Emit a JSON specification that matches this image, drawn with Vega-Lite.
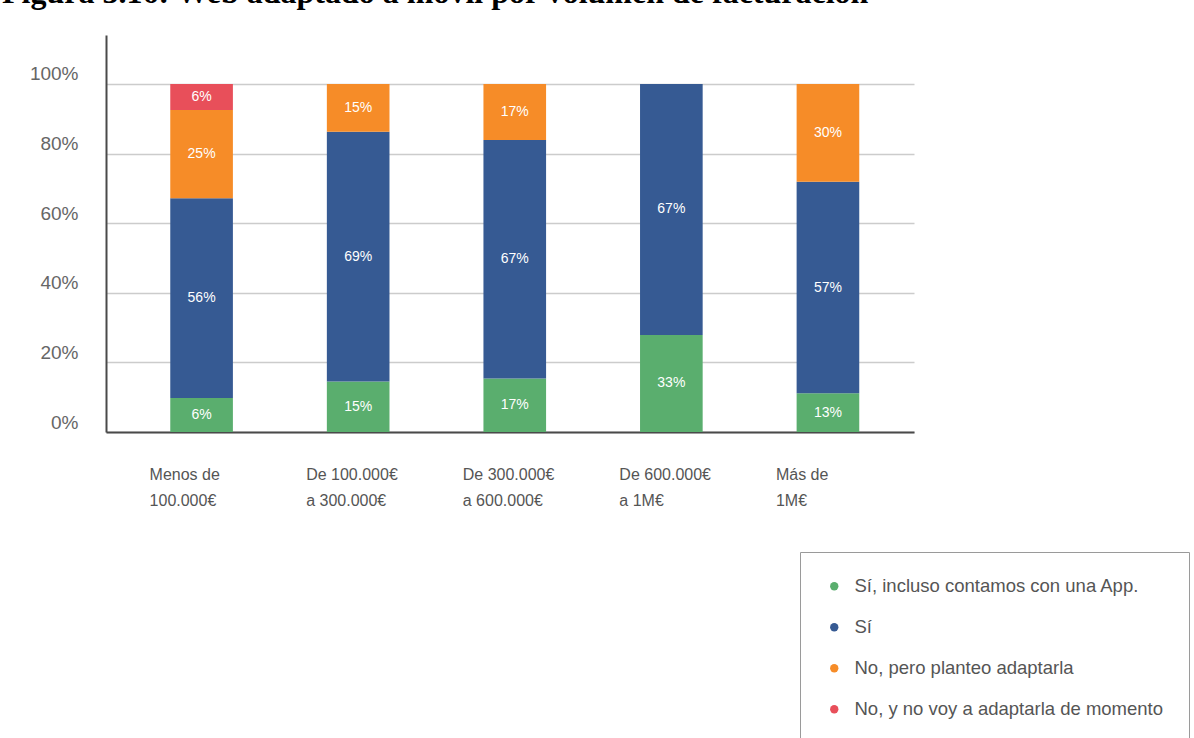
{
  "$schema": "https://vega.github.io/schema/vega-lite/v6.json",
  "autosize": {"type": "none"},
  "padding": {"left": 106, "top": 35, "right": 280, "bottom": 306},
  "width": 808,
  "height": 397,
  "background": "white",
  "title": {
    "text": "Figura 3.16: Web adaptado a móvil por volumen de facturación",
    "font": "Liberation Serif",
    "fontWeight": "bold",
    "fontSize": 32,
    "color": "black",
    "anchor": "start",
    "frame": "group",
    "baseline": "alphabetic",
    "offset": 0,
    "dx": -104,
    "dy": 0
  },
  "data": {
    "values": [
      {"cat": "Menos de 100.000€", "resp": "Sí, incluso contamos con una App.", "o": 1, "value": 9.8, "label": "6%"},
      {"cat": "Menos de 100.000€", "resp": "Sí", "o": 2, "value": 57.4, "label": "56%"},
      {"cat": "Menos de 100.000€", "resp": "No, pero planteo adaptarla", "o": 3, "value": 25.3, "label": "25%"},
      {"cat": "Menos de 100.000€", "resp": "No, y no voy a adaptarla de momento", "o": 4, "value": 7.5, "label": "6%"},
      {"cat": "De 100.000€ a 300.000€", "resp": "Sí, incluso contamos con una App.", "o": 1, "value": 14.5, "label": "15%"},
      {"cat": "De 100.000€ a 300.000€", "resp": "Sí", "o": 2, "value": 71.8, "label": "69%"},
      {"cat": "De 100.000€ a 300.000€", "resp": "No, pero planteo adaptarla", "o": 3, "value": 13.7, "label": "15%"},
      {"cat": "De 300.000€ a 600.000€", "resp": "Sí, incluso contamos con una App.", "o": 1, "value": 15.4, "label": "17%"},
      {"cat": "De 300.000€ a 600.000€", "resp": "Sí", "o": 2, "value": 68.5, "label": "67%"},
      {"cat": "De 300.000€ a 600.000€", "resp": "No, pero planteo adaptarla", "o": 3, "value": 16.1, "label": "17%"},
      {"cat": "De 600.000€ a 1M€", "resp": "Sí, incluso contamos con una App.", "o": 1, "value": 27.9, "label": "33%"},
      {"cat": "De 600.000€ a 1M€", "resp": "Sí", "o": 2, "value": 72.1, "label": "67%"},
      {"cat": "Más de 1M€", "resp": "Sí, incluso contamos con una App.", "o": 1, "value": 11.1, "label": "13%"},
      {"cat": "Más de 1M€", "resp": "Sí", "o": 2, "value": 60.8, "label": "57%"},
      {"cat": "Más de 1M€", "resp": "No, pero planteo adaptarla", "o": 3, "value": 28.1, "label": "30%"}
    ]
  },
  "encoding": {
    "x": {
      "field": "cat",
      "type": "nominal",
      "sort": ["Menos de 100.000€", "De 100.000€ a 300.000€", "De 300.000€ a 600.000€", "De 600.000€ a 1M€", "Más de 1M€"],
      "scale": {"paddingInner": 0.6, "paddingOuter": 0.38, "align": 0.54},
      "axis": {
        "title": null,
        "labelAngle": 0,
        "ticks": false,
        "grid": false,
        "domainColor": "#4a4a4a",
        "domainWidth": 2,
        "labelFont": "Liberation Sans, sans-serif",
        "labelFontSize": 16,
        "labelColor": "#555555",
        "labelAlign": "left",
        "labelBaseline": "top",
        "labelOffset": -52,
        "labelPadding": 34,
        "labelLineHeight": 26,
        "labelExpr": "indexof(datum.label, ' a ') > 0 ? [substring(datum.label, 0, indexof(datum.label, ' a ')), substring(datum.label, indexof(datum.label, ' a ') + 1)] : [substring(datum.label, 0, lastindexof(datum.label, ' ')), substring(datum.label, lastindexof(datum.label, ' ') + 1)]"
      }
    },
    "y": {
      "field": "value",
      "type": "quantitative",
      "stack": "zero",
      "scale": {"domain": [0, 114.08], "nice": false, "zero": true},
      "axis": {
        "title": null,
        "values": [0, 20, 40, 60, 80, 100],
        "labelExpr": "datum.value + '%'",
        "ticks": false,
        "domainColor": "#4a4a4a",
        "domainWidth": 2,
        "gridColor": "#cccccc",
        "gridWidth": 1.5,
        "labelFont": "Liberation Sans, sans-serif",
        "labelFontSize": 19,
        "labelColor": "#666666",
        "labelPadding": 28,
        "labelOffset": -10
      }
    },
    "order": {"field": "o", "type": "quantitative"}
  },
  "layer": [
    {
      "mark": {"type": "bar"},
      "encoding": {
        "color": {
          "field": "resp",
          "type": "nominal",
          "scale": {
            "domain": ["Sí, incluso contamos con una App.", "Sí", "No, pero planteo adaptarla", "No, y no voy a adaptarla de momento"],
            "range": ["#5aae6e", "#365a93", "#f68c28", "#e84f5a"]
          },
          "legend": {
            "title": null,
            "orient": "none",
            "legendX": 694,
            "legendY": 517,
            "direction": "vertical",
            "symbolType": "circle",
            "symbolSize": 70,
            "symbolStrokeWidth": 0,
            "labelFont": "Liberation Sans, sans-serif",
            "labelFontSize": 18.5,
            "labelColor": "#555555",
            "labelOffset": 11,
            "labelLimit": 450,
            "rowPadding": 22,
            "padding": 25,
            "strokeColor": "#9a9a9a",
            "fillColor": "white"
          }
        }
      }
    },
    {
      "mark": {
        "type": "text",
        "color": "white",
        "font": "Liberation Sans, sans-serif",
        "fontSize": 14,
        "baseline": "middle"
      },
      "encoding": {
        "y": {"field": "value", "type": "quantitative", "stack": "zero", "bandPosition": 0.5},
        "text": {"field": "label"}
      }
    }
  ],
  "config": {
    "view": {"stroke": null}
  }
}
